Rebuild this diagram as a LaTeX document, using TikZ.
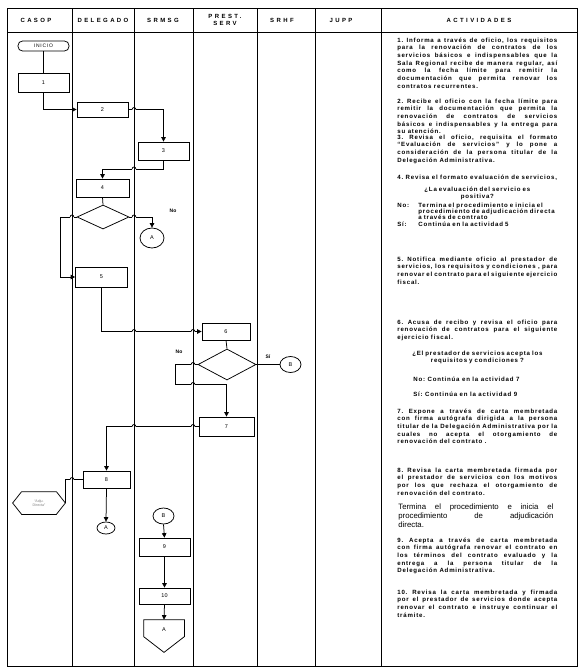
\documentclass[tikz,border=0pt]{standalone}
\usepackage{fontspec}
\setmainfont{Liberation Sans}
\newfontfamily\hdrfont{Liberation Sans}[LetterSpace=40]
\newfontfamily\actfamily{Liberation Sans}[LetterSpace=13]
\newfontfamily\inifont{Liberation Sans}[LetterSpace=15]
\usetikzlibrary{shapes.geometric,arrows.meta}
\newcommand\numfont{\fontsize{5.5}{6}\selectfont}
\newcommand\hop[2]{%
  \fill[white] (#1-1.9,#2-0.9) rectangle (#1+1.9,#2+0.9);
  \draw[line width=0.8pt] (#1,#2-1.3) -- (#1,#2+1.3);
  \draw[line width=0.75pt] (#1-1.9,#2) .. controls (#1-1.9,#2-2.6) and (#1+1.9,#2-2.6) .. (#1+1.9,#2);}
\frenchspacing
\begin{document}
\begin{tikzpicture}[x=1pt,y=-1pt,line width=0.75pt,
  pbox/.style={draw, fill=white, inner sep=0pt, font=\numfont},
  conn/.style={draw, fill=white, ellipse, inner sep=0pt, font=\numfont},
  arr/.style={-{Triangle[length=4.5pt,width=4.5pt]}},
  hdr/.style={inner sep=0pt, align=center, font=\hdrfont\bfseries\fontsize{6}{7}\selectfont},
  act/.style={anchor=base west, inner sep=0pt, text width=160pt, align=justify, font=\actfamily\bfseries\fontsize{6.1}{7.7}\selectfont\frenchspacing},
  lbl/.style={inner sep=0pt, font=\bfseries\fontsize{5}{6}\selectfont}]
\fill[white] (0,0) rectangle (588,672);
\useasboundingbox (0,0) rectangle (588,672);
% table
\draw[line width=0.8pt] (7,8) rectangle (577,666);
\draw[line width=0.8pt] (7,32) -- (577,32);
\foreach \cx in {72,134,193,257,315,381} \draw[line width=0.8pt] (\cx,8) -- (\cx,666);
% headers
\node[hdr] (h1) at (36,20) {CASOP};
\node[hdr] (h2) at (103,20) {DELEGADO};
\node[hdr] (h3) at (163,20) {SRMSG};
\node[hdr] (h4) at (225,20) {PREST.\\SERV};
\node[hdr] (h5) at (282,20) {SRHF};
\node[hdr] (h6) at (341,20) {JUPP};
\node[hdr] (h7) at (479,20) {ACTIVIDADES};
% flowchart nodes
\node[draw, fill=white, rounded corners=4.5pt, inner sep=0pt, minimum width=51pt, minimum height=10pt, font=\inifont\fontsize{5}{5}\selectfont] (ini) at (43.5,46) {INICIO};
\node[pbox, minimum width=51pt, minimum height=19pt] (b1) at (43.5,82.5) {1};
\node[pbox, minimum width=51pt, minimum height=15pt] (b2) at (102.5,109.5) {2};
\node[pbox, minimum width=51pt, minimum height=18pt] (b3) at (163.5,151) {3};
\node[pbox, minimum width=53pt, minimum height=18pt] (b4) at (102.5,188) {4};
\node[draw, fill=white, diamond, inner sep=0pt, minimum width=52pt, minimum height=24pt] (d1) at (103,217) {};
\node[conn, minimum width=24pt, minimum height=20pt] (A1) at (152,238) {A};
\node[lbl] (no1) at (173,211) {No};
\node[pbox, minimum width=52pt, minimum height=20pt] (b5) at (101.5,277) {5};
\node[pbox, minimum width=48pt, minimum height=17pt] (b6) at (226,331.5) {6};
\node[draw, fill=white, diamond, inner sep=0pt, minimum width=58pt, minimum height=31pt] (d2) at (227,364.5) {};
\node[lbl] (no2) at (179,352) {No};
\node[lbl] (si2) at (268,357) {Sí};
\node[conn, minimum width=21pt, minimum height=16pt] (B1) at (290.5,364.5) {B};
\node[pbox, minimum width=55pt, minimum height=19pt] (b7) at (226.5,426.5) {7};
\node[pbox, minimum width=47pt, minimum height=17pt] (b8) at (106.5,479.5) {8};
\node[inner sep=0pt, minimum width=52pt, minimum height=22pt, align=center, text=gray, font=\fontsize{3.6}{4.2}\selectfont] (hex) at (39,503) {“Adju.\\Directa”};
\draw (hex.west) -- ([xshift=9pt]hex.north west) -- ([xshift=-9pt]hex.north east) -- (hex.east) -- ([xshift=-9pt]hex.south east) -- ([xshift=9pt]hex.south west) -- cycle;
\node[conn, minimum width=18pt, minimum height=12pt] (A2) at (106,528) {A};
\node[conn, minimum width=21pt, minimum height=16pt] (B2) at (163.5,516) {B};
\node[pbox, minimum width=51pt, minimum height=18pt] (b9) at (164.5,547) {9};
\node[pbox, minimum width=51pt, minimum height=16pt] (b10) at (164.5,596) {10};
\node[inner sep=0pt, minimum width=40pt, minimum height=32pt] (pA) at (164,636) {};
\draw (pA.north west) -- (pA.north east) -- ([yshift=-17pt]pA.north east) -- (pA.south) -- ([yshift=-17pt]pA.north west) -- cycle;
\node[inner sep=0pt, font=\numfont] (pAl) at (164,630) {A};
% connectors
\draw (ini.south) -- (b1.north);
\draw[arr] (b1.south) |- (b2.west);
\draw[arr] (b2.east) -| (b3.north);
\draw[arr] (b3.south) -- ++(0,9) -| (b4.north);
\draw (b4.south) -- (d1.north);
\draw[arr] (d1.east) -| (A1.north);
\draw[arr] (d1.west) -- ++(-16,0) |- (b5.west);
\draw[arr] (b5.south) |- (b6.west);
\draw (b6.south) -- (d2.north);
\draw (d2.east) -- (B1.west);
\draw[arr] (d2.west) -- ++(-22,0) -- ++(0,20) -| (b7.north);
\draw[arr] (b7.west) -| (b8.north);
\draw[line width=1.5pt] (b8.west) -| (hex.east);
\draw[arr] (b8.south) -- (A2.north);
\draw[arr] (B2.south) -- (b9.north);
\draw[arr] (b9.south) -- (b10.north);
\draw[arr] (b10.south) -- (pA.north);
% line hops
\hop{134}{109.5}
\hop{134}{169}
\hop{134}{217}
\hop{72}{217}
\hop{134}{331.5}
\hop{193}{331.5}
\hop{193}{364.5}
\hop{193}{384.5}
\hop{193}{426.5}
\hop{134}{426.5}
\hop{72}{479.5}
% activities
\node[act] (t1) at (397,42) {\fontsize{6.1}{7.67}\selectfont 1. Informa a través de oficio, los requisitos\linebreak para la renovación de contratos de los\linebreak servicios básicos e indispensables que la\linebreak Sala Regional recibe de manera regular, así\linebreak como la fecha límite para remitir la\linebreak documentación que permita renovar los\linebreak contratos recurrentes.};
\node[act] (t2) at (397,103) {\fontsize{6.1}{7.25}\selectfont 2. Recibe el oficio con la fecha límite para\linebreak remitir la documentación que permita la\linebreak renovación de contratos de servicios\linebreak básicos e indispensables y la entrega para\linebreak su atención.};
\node[act] (t3) at (397,139) {3. Revisa el oficio, requisita el formato\linebreak “Evaluación de servicios” y lo pone a\linebreak consideración de la persona titular de la\linebreak Delegación Administrativa.};
\node[act] (t4) at (397,179) {4. Revisa el formato evaluación de servicios,};
\node[act, align=center] (t4q) at (397,191) {\fontsize{6.1}{6.5}\selectfont ¿La evaluación del servicio es\\positiva?};
\node[act, align=left] (t4n) at (397,207) {\fontsize{6.1}{6}\selectfont\makebox[21pt][l]{No:}Termina el procedimiento e inicia el\\\hspace*{21pt}procedimiento de adjudicación directa\\\hspace*{21pt}a través de contrato\\\makebox[21pt][l]{Sí:}Continúa en la actividad 5};
\node[act] (t5) at (397,261) {\fontsize{6.1}{8.7}\selectfont 5. Notifica mediante oficio al prestador de\linebreak servicios, los requisitos y condiciones , para\linebreak renovar el contrato para el siguiente ejercicio\linebreak fiscal.};
\node[act] (t6) at (397,324) {\fontsize{6.1}{7.5}\selectfont 6. Acusa de recibo y revisa el oficio para\linebreak renovación de contratos para el siguiente\linebreak ejercicio fiscal.};
\node[act, align=center] (t6q) at (397,355) {\fontsize{6.1}{13}\selectfont ¿El prestador de servicios acepta los\\requisitos y condiciones ?};
\node[act, text width=, align=left] (t6n) at (413,381) {No: Continúa en la actividad 7};
\node[act, text width=, align=left] (t6s) at (413,396) {Sí: Continúa en la actividad 9};
\node[act] (t7) at (397,413) {\fontsize{6.1}{7.75}\selectfont 7. Expone a través de carta membretada\linebreak con firma autógrafa dirigida a la persona\linebreak titular de la Delegación Administrativa por la\linebreak cuales no acepta el otorgamiento de\linebreak renovación del contrato .};
\node[act] (t8) at (397,472) {8. Revisa la carta membretada firmada por\linebreak el prestador de servicios con los motivos\linebreak por los que rechaza el otorgamiento de\linebreak renovación del contrato.};
\node[act, text width=155pt, font=\fontsize{7.8}{9}\selectfont\frenchspacing] (tT) at (398,509.5) {Termina el procedimiento e inicia el\linebreak procedimiento de adjudicación\linebreak directa.};
\node[act] (t9) at (397,542) {\fontsize{6.1}{8}\selectfont 9. Acepta a través de carta membretada\linebreak con firma autógrafa renovar el contrato en\linebreak los términos del contrato evaluado y la\linebreak entrega a la persona titular de la\linebreak Delegación Administrativa.};
\node[act] (t10) at (397,594) {10. Revisa la carta membretada y firmada\linebreak por el prestador de servicios donde acepta\linebreak renovar el contrato e instruye continuar el\linebreak trámite.};
\end{tikzpicture}
\end{document}
